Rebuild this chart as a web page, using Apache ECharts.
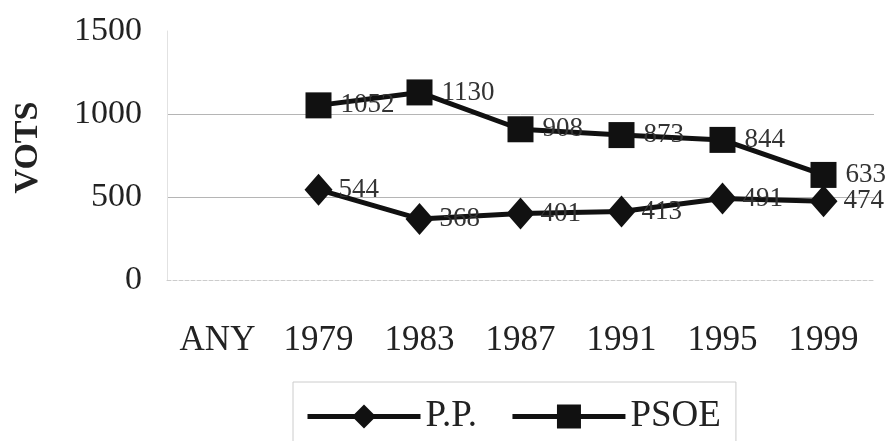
<!DOCTYPE html>
<html>
<head>
<meta charset="utf-8">
<script src="https://cdn.jsdelivr.net/npm/echarts@6/dist/echarts.min.js"></script>
<style>
  html, body { margin: 0; padding: 0; background: #fff; }
  #chart { width: 887px; height: 441px; }
</style>
</head>
<body>
<div id="chart"></div>
<script>
var years = ['ANY', '1979', '1983', '1987', '1991', '1995', '1999'];
var ppVotes = [null, 544, 368, 401, 413, 491, 474];
var psoeVotes = [null, 1052, 1130, 908, 873, 844, 633];
var yTicks = [0, 500, 1000, 1500];

var chart = echarts.init(document.getElementById('chart'));
var serif = 'Liberation Serif';

var option = {
    animation: false,
    textStyle: { fontFamily: serif, color: '#222' },
    grid: { left: 167, right: 13, top: 31, bottom: 161 },
    xAxis: {
        type: 'category',
        data: years,
        boundaryGap: true,
        axisLine: { show: true, lineStyle: { color: '#ccc', type: 'dashed' } },
        axisTick: { show: false },
        axisLabel: { fontSize: 35, color: '#222', fontFamily: serif, margin: 43 }
    },
    yAxis: {
        type: 'value',
        min: yTicks[0],
        max: yTicks[yTicks.length - 1],
        interval: 500,
        name: 'VOTS',
        nameLocation: 'middle',
        nameRotate: 90,
        nameGap: 122,
        nameTextStyle: { fontSize: 34, fontWeight: 'bold', color: '#222', fontFamily: serif, padding: [0, 0, 0, 16] },
        axisLine: { show: true, lineStyle: { color: '#e2e2e2' } },
        axisTick: { show: false },
        axisLabel: {
            fontSize: 34, color: '#222', fontFamily: serif, margin: 25,
            formatter: function (v) { return String(v); }
        },
        splitLine: { show: true, lineStyle: { color: ['transparent', '#b5b5b5', '#b5b5b5', 'transparent'] } }
    },
    legend: {
        left: 293,
        top: 382,
        itemWidth: 113,
        itemHeight: 30,
        itemGap: 33,
        padding: [16, 15, 16, 12],
        borderColor: '#ccc',
        borderWidth: 1,
        lineStyle: { width: 5 },
        textStyle: { fontSize: 37, color: '#222', fontFamily: serif },
        data: ['P.P.', 'PSOE']
    },
    series: [
        {
            name: 'P.P.',
            type: 'line',
            data: ppVotes,
            symbol: 'diamond',
            symbolSize: [28, 32],
            itemStyle: { color: '#111' },
            lineStyle: { color: '#111', width: 5 },
            label: { show: true, position: 'right', distance: 6, fontSize: 27, color: '#333', fontFamily: serif }
        },
        {
            name: 'PSOE',
            type: 'line',
            data: psoeVotes,
            symbol: 'rect',
            symbolSize: 26,
            itemStyle: { color: '#111' },
            lineStyle: { color: '#111', width: 5 },
            label: { show: true, position: 'right', distance: 9, fontSize: 27, color: '#333', fontFamily: serif }
        }
    ]
};

chart.setOption(option);
</script>
</body>
</html>
